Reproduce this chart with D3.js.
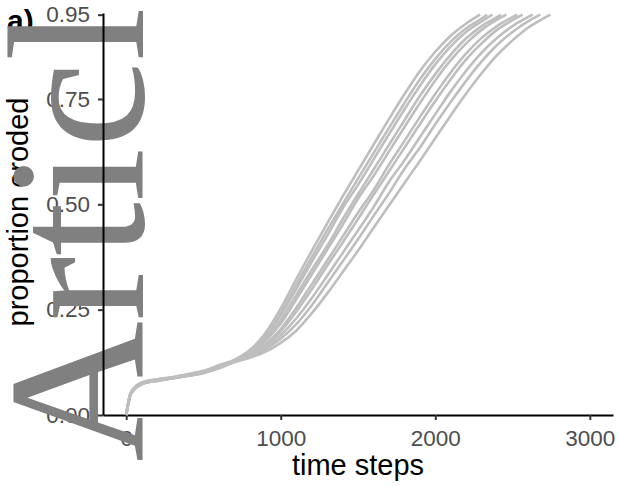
<!DOCTYPE html>
<html>
<head>
<meta charset="utf-8">
<script src="https://cdn.jsdelivr.net/npm/d3@7"></script>
<style>
  html, body { margin: 0; padding: 0; background: #ffffff; }
  svg { display: block; }
</style>
</head>
<body>
<svg id="chart" width="619" height="486"></svg>
<script>
// Simulation time grid shared by every run
const timeSteps = [0, 25, 50, 100, 200, 300, 400, 500, 600,
  700, 800, 900, 1000, 1100, 1200, 1300, 1400, 1500, 1600, 1700,
  1800, 1900, 2000, 2100, 2200, 2300, 2400, 2500, 2600, 2700];

// Proportion eroded per run, on the grid above (each run ends when it stops)
const run01 = [0, 0.049, 0.064, 0.077, 0.085, 0.090, 0.097, 0.105, 0.118,
  0.131, 0.154, 0.194, 0.253, 0.322, 0.389, 0.454, 0.518, 0.580, 0.641, 0.702, 0.761, 0.816, 0.862, 0.900, 0.929];
const run02 = [0, 0.046, 0.061, 0.074, 0.082, 0.088, 0.094, 0.101, 0.114,
  0.130, 0.152, 0.188, 0.243, 0.309, 0.374, 0.438, 0.500, 0.561, 0.621, 0.681, 0.740, 0.796, 0.845, 0.886, 0.918, 0.941];
const run03 = [0, 0.047, 0.063, 0.076, 0.084, 0.089, 0.096, 0.103, 0.116,
  0.130, 0.150, 0.185, 0.236, 0.299, 0.363, 0.425, 0.490, 0.546, 0.606, 0.666, 0.725, 0.781, 0.832, 0.875, 0.909, 0.934];
const run04 = [0, 0.045, 0.060, 0.073, 0.081, 0.087, 0.093, 0.100, 0.113,
  0.129, 0.147, 0.179, 0.225, 0.284, 0.344, 0.401, 0.464, 0.524, 0.582, 0.641, 0.699, 0.757, 0.809, 0.855, 0.894, 0.923, 0.944];
const run05 = [0, 0.048, 0.062, 0.075, 0.083, 0.088, 0.095, 0.102, 0.115,
  0.129, 0.145, 0.175, 0.217, 0.274, 0.333, 0.392, 0.451, 0.513, 0.567, 0.625, 0.683, 0.740, 0.794, 0.842, 0.882, 0.914, 0.938];
const run06 = [0, 0.044, 0.059, 0.073, 0.082, 0.087, 0.094, 0.101, 0.114,
  0.128, 0.142, 0.167, 0.204, 0.254, 0.310, 0.366, 0.423, 0.480, 0.533, 0.594, 0.650, 0.707, 0.762, 0.813, 0.858, 0.895, 0.923, 0.944];
const run07 = [0, 0.046, 0.061, 0.074, 0.082, 0.088, 0.094, 0.101, 0.113,
  0.127, 0.141, 0.165, 0.198, 0.245, 0.298, 0.354, 0.409, 0.465, 0.522, 0.578, 0.634, 0.690, 0.745, 0.797, 0.844, 0.882, 0.914, 0.937];
const run08 = [0, 0.047, 0.062, 0.076, 0.084, 0.089, 0.095, 0.102, 0.114,
  0.127, 0.139, 0.160, 0.189, 0.229, 0.277, 0.330, 0.384, 0.438, 0.493, 0.553, 0.604, 0.659, 0.714, 0.768, 0.817, 0.860, 0.895, 0.923, 0.944];
const run09 = [0, 0.045, 0.061, 0.074, 0.083, 0.088, 0.094, 0.100, 0.112,
  0.126, 0.137, 0.156, 0.181, 0.215, 0.260, 0.312, 0.364, 0.417, 0.472, 0.526, 0.584, 0.634, 0.690, 0.743, 0.793, 0.839, 0.878, 0.909, 0.934];
const run10 = [0, 0.046, 0.060, 0.073, 0.081, 0.087, 0.093, 0.099, 0.111,
  0.125, 0.136, 0.150, 0.171, 0.200, 0.241, 0.288, 0.339, 0.390, 0.444, 0.497, 0.550, 0.603, 0.657, 0.711, 0.763, 0.811, 0.854, 0.889, 0.919, 0.941];

const runs = [run01, run02, run03, run04, run05, run06, run07, run08, run09, run10];

// Time step at which each run reaches the stopping proportion
const finishSteps = [2290, 2335, 2370, 2425, 2460, 2530, 2565, 2630, 2680, 2745];
const stopProportion = 0.95;

const xTickValues = [0, 1000, 2000, 3000];
const yTickValues = [0, 0.25, 0.50, 0.75, 0.95];

const svg = d3.select("#chart");
const sans = "'Liberation Sans', Arial, Helvetica, sans-serif";

const x = d3.scaleLinear().domain([-150, 3150]).range([103, 613]);
const y = d3.scaleLinear().domain([0, 0.954]).range([415, 13]);

// ---- axis labels (beneath the stamp) ----
const yLabels = svg.append("g").attr("transform", `translate(${x(-150)},0)`)
  .call(d3.axisLeft(y).tickValues(yTickValues).tickFormat(d3.format(".2f"))
        .tickSize(5).tickPadding(8));
yLabels.select(".domain").remove();
yLabels.selectAll(".tick line").remove();
yLabels.selectAll(".tick text").attr("fill", "#4d4d4d")
  .style("font-family", sans).style("font-size", "22.5px");

const xLabels = svg.append("g").attr("transform", `translate(0,${y(0)})`)
  .call(d3.axisBottom(x).tickValues(xTickValues).tickFormat(d3.format("d"))
        .tickSize(5).tickPadding(10));
xLabels.select(".domain").remove();
xLabels.selectAll(".tick line").remove();
xLabels.selectAll(".tick text").attr("fill", "#4d4d4d")
  .style("font-family", sans).style("font-size", "22.5px");

svg.append("text")
  .attr("x", (x(-150) + x(3150)) / 2).attr("y", 475)
  .attr("text-anchor", "middle")
  .style("font-family", sans).style("font-size", "29px")
  .attr("fill", "#000").text("time steps");

svg.append("text")
  .attr("transform", `translate(28,${(y(0) + y(0.954)) / 2 - 2}) rotate(-90)`)
  .attr("text-anchor", "middle")
  .style("font-family", sans).style("font-size", "29px")
  .attr("fill", "#000").text("proportion eroded");

svg.append("text")
  .attr("x", 7).attr("y", 31)
  .style("font-family", sans).style("font-size", "30px").style("font-weight", "bold")
  .attr("fill", "#000").text("a)");

// ---- stamp ----
svg.append("text")
  .attr("transform", "translate(143,462) rotate(-90)")
  .style("font-family", "'Liberation Serif', 'Times New Roman', Times, serif")
  .style("font-size", "195px")
  .attr("fill", "#808080")
  .text("Article");

// ---- axis lines and ticks ----
const yAxis = svg.append("g").attr("transform", `translate(${x(-150)},0)`)
  .call(d3.axisLeft(y).tickValues(yTickValues).tickFormat("").tickSize(5).tickSizeOuter(0));
yAxis.select(".domain").attr("stroke", "#000").attr("stroke-width", 2);
yAxis.selectAll(".tick line").attr("stroke", "#333").attr("stroke-width", 2);

const xAxis = svg.append("g").attr("transform", `translate(0,${y(0)})`)
  .call(d3.axisBottom(x).tickValues(xTickValues).tickFormat("").tickSize(5).tickSizeOuter(0));
xAxis.select(".domain").attr("stroke", "#000").attr("stroke-width", 2);
xAxis.selectAll(".tick line").attr("stroke", "#333").attr("stroke-width", 2);

// ---- runs ----
const line = d3.line()
  .x(d => x(d[0]))
  .y(d => y(d[1]))
  .curve(d3.curveMonotoneX);

const runData = runs.map((vals, i) => {
  const pts = vals.map((v, j) => [timeSteps[j], v]);
  pts.push([finishSteps[i], stopProportion]);
  return pts;
});

svg.append("g")
  .selectAll("path")
  .data(runData)
  .join("path")
  .attr("d", line)
  .attr("fill", "none")
  .attr("stroke", "#bebebe")
  .attr("stroke-width", 2.6);
</script>
</body>
</html>
